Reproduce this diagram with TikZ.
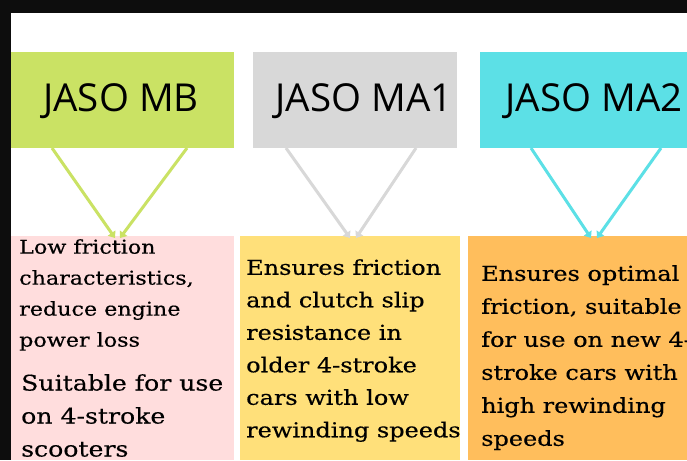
\documentclass[tikz,border=0pt]{standalone}
\usepackage{fontspec}
\setmainfont{DejaVu Serif}[FakeStretch=1.17,FakeBold=0.4]
\newfontfamily\hdr{Open Sans}
\usetikzlibrary{arrows.meta}
\begin{document}
\begin{tikzpicture}[x=1pt,y=-1pt,
  head/.style={inner sep=0pt,font=\hdr\fontsize{38.5}{40}\selectfont},
  body/.style={anchor=north west,inner sep=0pt,align=left},
  arr/.style={line width=3pt,-{Triangle[width=9pt,length=6pt]}}]
\useasboundingbox (0,0) rectangle (687,460);
\fill[black!95] (0,0) rectangle (687,13);
\fill[black!95] (0,0) rectangle (11,460);
\fill[white] (11,13) rectangle (687,460);
% headers
\fill[fill={rgb,255:red,202;green,226;blue,100}] (11,52) rectangle (234,148);
\fill[fill={rgb,255:red,216;green,216;blue,216}] (253,52) rectangle (457,148);
\fill[fill={rgb,255:red,92;green,224;blue,230}] (480,52) rectangle (687,148);
\node[head] (mb) at (121,101) {JASO MB};
\node[head] (ma1) at (364,101) {JASO MA1};
\node[head] (ma2) at (594,101) {JASO MA2};
% bodies
\fill[fill={rgb,255:red,255;green,221;blue,221}] (11,236) rectangle (234,460);
\fill[fill={rgb,255:red,255;green,224;blue,122}] (240,236) rectangle (460,460);
\fill[fill={rgb,255:red,255;green,190;blue,92}] (468,236) rectangle (687,460);
\coordinate (a1) at (52,148); \coordinate (a2) at (187,148);
\coordinate (b1) at (286,148); \coordinate (b2) at (416,148);
\coordinate (c1) at (531,148); \coordinate (c2) at (661,148);
\coordinate (ta) at (115,238); \coordinate (tb) at (120,238);
\coordinate (tc) at (350,238); \coordinate (td) at (356,238);
\coordinate (te) at (591,238); \coordinate (tf) at (597,238);
\draw[arr,draw={rgb,255:red,202;green,226;blue,100}] (a1) -- (ta);
\draw[arr,draw={rgb,255:red,202;green,226;blue,100}] (a2) -- (tb);
\draw[arr,draw={rgb,255:red,216;green,216;blue,216}] (b1) -- (tc);
\draw[arr,draw={rgb,255:red,216;green,216;blue,216}] (b2) -- (td);
\draw[arr,draw={rgb,255:red,92;green,224;blue,230}] (c1) -- (te);
\draw[arr,draw={rgb,255:red,92;green,224;blue,230}] (c2) -- (tf);
\node[body,font=\fontsize{19}{31}\selectfont] (t1) at (19,239) {Low friction\\characteristics,\\reduce engine\\power loss};
\node[body,font=\fontsize{21.5}{33}\selectfont] (t1b) at (21,374) {Suitable for use\\on 4-stroke\\scooters};
\node[body,font=\fontsize{20.5}{32.5}\selectfont] (t2) at (246,259) {Ensures friction\\and clutch slip\\resistance in\\older 4-stroke\\cars with low\\rewinding speeds};
\node[body,font=\fontsize{20.5}{33}\selectfont] (t3) at (481,265) {Ensures optimal\\friction, suitable\\for use on new 4-\\stroke cars with\\high rewinding\\speeds};
\end{tikzpicture}
\end{document}
